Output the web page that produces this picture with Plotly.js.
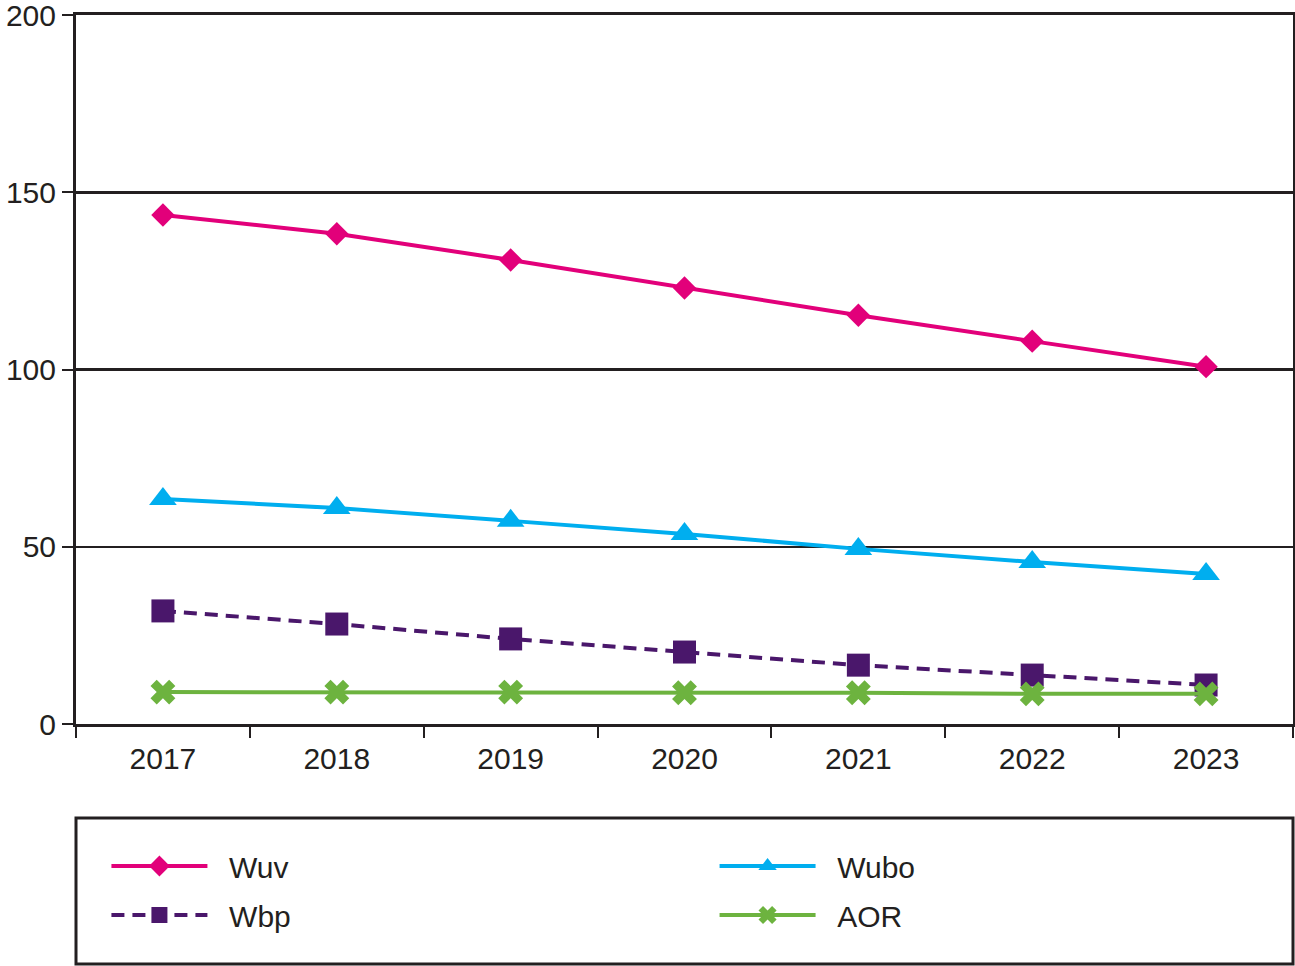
<!DOCTYPE html>
<html>
<head>
<meta charset="utf-8">
<script src="https://cdn.plot.ly/plotly-3.0.1.min.js"></script>
<style>html,body{margin:0;padding:0;background:#fff;}#chart{width:1295px;height:966px;}</style>
</head>
<body>
<div id="chart"></div>
<script>
const years = ['2017', '2018', '2019', '2020', '2021', '2022', '2023'];
const wuv = [143.6, 138.3, 130.9, 123.0, 115.3, 108.0, 100.8];
const wubo = [63.5, 60.9, 57.3, 53.6, 49.4, 45.7, 42.3];
const wbp = [31.9, 28.2, 24.0, 20.3, 16.6, 13.8, 11.0];
const aor = [9.0, 9.0, 9.0, 8.8, 8.8, 8.5, 8.5];
const yTicks = [0, 50, 100, 150, 200];

const FONT = 'Liberation Sans, Arial, sans-serif';
const DARK = '#231F20';
const PAD = '\u00a0\u00a0';

const traces = [
  {name: PAD + 'Wuv', legend: 'legend', x: years, y: wuv, mode: 'lines+markers',
   line: {color: '#E2007A', width: 4},
   marker: {symbol: 'diamond', size: 18, color: '#E2007A'}},
  {name: PAD + 'Wubo', legend: 'legend2', x: years, y: wubo, mode: 'lines+markers',
   line: {color: '#00AEEF', width: 4},
   marker: {symbol: 'triangle-up', size: 24, color: '#00AEEF'}},
  {name: PAD + 'Wbp', legend: 'legend3', x: years, y: wbp, mode: 'lines+markers',
   line: {color: '#4A176B', width: 4, dash: '13px,8px'},
   marker: {symbol: 'square', size: 23, color: '#4A176B'}},
  {name: PAD + 'AOR', legend: 'legend4', x: years, y: aor, mode: 'lines+markers',
   line: {color: '#6DB33F', width: 4},
   marker: {symbol: 'x', size: 22, color: '#6DB33F'}}
];

function leg(x, y) {
  return {
    orientation: 'h', x: x, xanchor: 'left', y: y, yanchor: 'middle',
    itemwidth: 96,
    font: {family: FONT, size: 30, color: DARK},
    bgcolor: 'rgba(0,0,0,0)', borderwidth: 0
  };
}

const layout = {
  width: 1295, height: 966,
  margin: {l: 76, r: 2, t: 15, b: 242, pad: 0, autoexpand: false},
  paper_bgcolor: '#fff', plot_bgcolor: '#fff',
  font: {family: FONT, size: 30, color: DARK},
  showlegend: true,
  xaxis: {
    type: 'category', range: [-0.5, 6.5], automargin: false,
    showline: true, linecolor: DARK, linewidth: 3, mirror: true,
    ticks: 'outside', tickson: 'boundaries', ticklen: 11, tickwidth: 2, tickcolor: DARK,
    showgrid: false, zeroline: false, ticklabelstandoff: 6,
    tickfont: {family: FONT, size: 30, color: DARK}
  },
  yaxis: {
    range: [0, 200], tickvals: yTicks, ticktext: yTicks.map(String), automargin: false,
    showline: true, linecolor: DARK, linewidth: 3, mirror: true,
    ticks: 'outside', ticklen: 11, tickwidth: 2, tickcolor: DARK,
    showgrid: true, gridcolor: DARK, gridwidth: 2.5, zeroline: false,
    ticklabeloverflow: 'allow',
    tickfont: {family: FONT, size: 30, color: DARK}
  },
  legend: leg(0.025, -0.2003),
  legend2: leg(0.5247, -0.2003),
  legend3: leg(0.025, -0.2694),
  legend4: leg(0.5247, -0.2694),
  shapes: [{
    type: 'rect', xref: 'paper', yref: 'paper',
    x0: 0, x1: 1, y0: -0.3385, y1: -0.1326,
    line: {color: DARK, width: 3}, fillcolor: 'rgba(0,0,0,0)'
  }]
};

Plotly.newPlot('chart', traces, layout, {displayModeBar: false, staticPlot: true});
</script>
</body>
</html>
